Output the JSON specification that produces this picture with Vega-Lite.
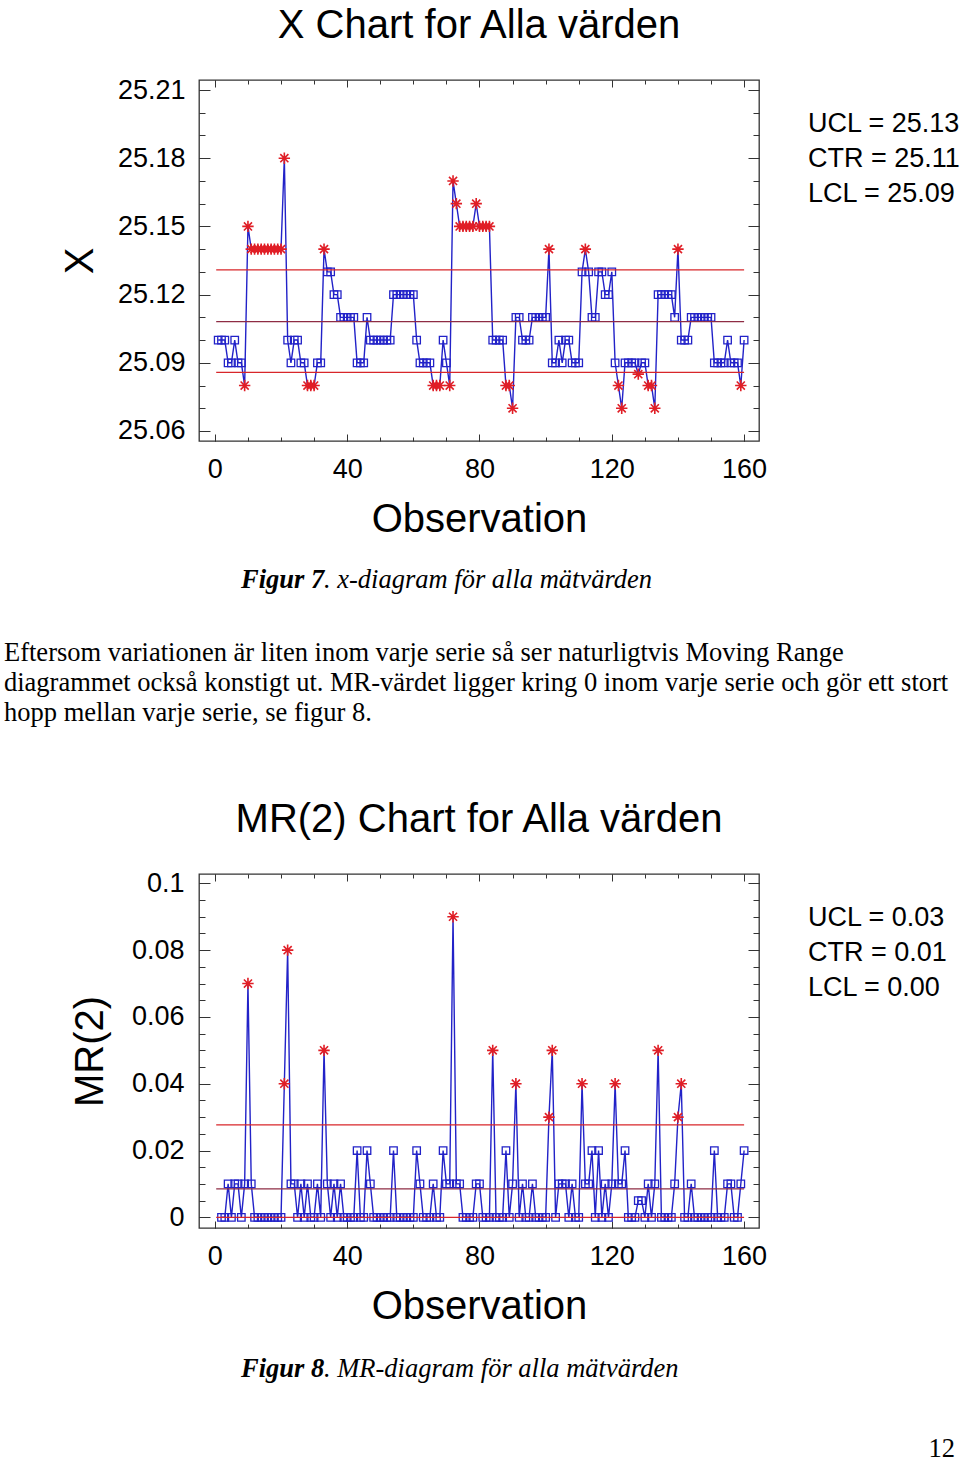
{
  "$schema": "https://vega.github.io/schema/vega-lite/v6.json",
  "autosize": {"type": "pad"},
  "padding": {"left": 4, "top": 5, "right": 3, "bottom": 2},
  "background": "white",
  "spacing": 10,
  "bounds": "flush",
  "config": {
    "font": "Liberation Sans",
    "view": {"stroke": "#333333", "strokeWidth": 1.3},
    "axis": {
      "domain": false, "grid": false,
      "labelFont": "Liberation Sans", "labelFontSize": 27, "labelColor": "#000000",
      "titleFont": "Liberation Sans", "titleFontSize": 40, "titleFontWeight": "normal", "titleColor": "#000000",
      "tickColor": "#333333", "tickWidth": 1
    }
  },
  "datasets": {
    "spc": [
      {"obs":1,"X":25.10,"MR":null},{"obs":2,"X":25.10,"MR":0},{"obs":3,"X":25.10,"MR":0},{"obs":4,"X":25.09,"MR":0.01},{"obs":5,"X":25.09,"MR":0},
      {"obs":6,"X":25.10,"MR":0.01},{"obs":7,"X":25.09,"MR":0.01},{"obs":8,"X":25.09,"MR":0},{"obs":9,"X":25.08,"MR":0.01},{"obs":10,"X":25.15,"MR":0.07},
      {"obs":11,"X":25.14,"MR":0.01},{"obs":12,"X":25.14,"MR":0},{"obs":13,"X":25.14,"MR":0},{"obs":14,"X":25.14,"MR":0},{"obs":15,"X":25.14,"MR":0},
      {"obs":16,"X":25.14,"MR":0},{"obs":17,"X":25.14,"MR":0},{"obs":18,"X":25.14,"MR":0},{"obs":19,"X":25.14,"MR":0},{"obs":20,"X":25.14,"MR":0},
      {"obs":21,"X":25.18,"MR":0.04},{"obs":22,"X":25.10,"MR":0.08},{"obs":23,"X":25.09,"MR":0.01},{"obs":24,"X":25.10,"MR":0.01},{"obs":25,"X":25.10,"MR":0},
      {"obs":26,"X":25.09,"MR":0.01},{"obs":27,"X":25.09,"MR":0},{"obs":28,"X":25.08,"MR":0.01},{"obs":29,"X":25.08,"MR":0},{"obs":30,"X":25.08,"MR":0},
      {"obs":31,"X":25.09,"MR":0.01},{"obs":32,"X":25.09,"MR":0},{"obs":33,"X":25.14,"MR":0.05},{"obs":34,"X":25.13,"MR":0.01},{"obs":35,"X":25.13,"MR":0},
      {"obs":36,"X":25.12,"MR":0.01},{"obs":37,"X":25.12,"MR":0},{"obs":38,"X":25.11,"MR":0.01},{"obs":39,"X":25.11,"MR":0},{"obs":40,"X":25.11,"MR":0},
      {"obs":41,"X":25.11,"MR":0},{"obs":42,"X":25.11,"MR":0},{"obs":43,"X":25.09,"MR":0.02},{"obs":44,"X":25.09,"MR":0},{"obs":45,"X":25.09,"MR":0},
      {"obs":46,"X":25.11,"MR":0.02},{"obs":47,"X":25.10,"MR":0.01},{"obs":48,"X":25.10,"MR":0},{"obs":49,"X":25.10,"MR":0},{"obs":50,"X":25.10,"MR":0},
      {"obs":51,"X":25.10,"MR":0},{"obs":52,"X":25.10,"MR":0},{"obs":53,"X":25.10,"MR":0},{"obs":54,"X":25.12,"MR":0.02},{"obs":55,"X":25.12,"MR":0},
      {"obs":56,"X":25.12,"MR":0},{"obs":57,"X":25.12,"MR":0},{"obs":58,"X":25.12,"MR":0},{"obs":59,"X":25.12,"MR":0},{"obs":60,"X":25.12,"MR":0},
      {"obs":61,"X":25.10,"MR":0.02},{"obs":62,"X":25.09,"MR":0.01},{"obs":63,"X":25.09,"MR":0},{"obs":64,"X":25.09,"MR":0},{"obs":65,"X":25.09,"MR":0},
      {"obs":66,"X":25.08,"MR":0.01},{"obs":67,"X":25.08,"MR":0},{"obs":68,"X":25.08,"MR":0},{"obs":69,"X":25.10,"MR":0.02},{"obs":70,"X":25.09,"MR":0.01},
      {"obs":71,"X":25.08,"MR":0.01},{"obs":72,"X":25.17,"MR":0.09},{"obs":73,"X":25.16,"MR":0.01},{"obs":74,"X":25.15,"MR":0.01},{"obs":75,"X":25.15,"MR":0},
      {"obs":76,"X":25.15,"MR":0},{"obs":77,"X":25.15,"MR":0},{"obs":78,"X":25.15,"MR":0},{"obs":79,"X":25.16,"MR":0.01},{"obs":80,"X":25.15,"MR":0.01},
      {"obs":81,"X":25.15,"MR":0},{"obs":82,"X":25.15,"MR":0},{"obs":83,"X":25.15,"MR":0},{"obs":84,"X":25.10,"MR":0.05},{"obs":85,"X":25.10,"MR":0},
      {"obs":86,"X":25.10,"MR":0},{"obs":87,"X":25.10,"MR":0},{"obs":88,"X":25.08,"MR":0.02},{"obs":89,"X":25.08,"MR":0},{"obs":90,"X":25.07,"MR":0.01},
      {"obs":91,"X":25.11,"MR":0.04},{"obs":92,"X":25.11,"MR":0},{"obs":93,"X":25.10,"MR":0.01},{"obs":94,"X":25.10,"MR":0},{"obs":95,"X":25.10,"MR":0},
      {"obs":96,"X":25.11,"MR":0.01},{"obs":97,"X":25.11,"MR":0},{"obs":98,"X":25.11,"MR":0},{"obs":99,"X":25.11,"MR":0},{"obs":100,"X":25.11,"MR":0},
      {"obs":101,"X":25.14,"MR":0.03},{"obs":102,"X":25.09,"MR":0.05},{"obs":103,"X":25.09,"MR":0},{"obs":104,"X":25.10,"MR":0.01},{"obs":105,"X":25.09,"MR":0.01},
      {"obs":106,"X":25.10,"MR":0.01},{"obs":107,"X":25.10,"MR":0},{"obs":108,"X":25.09,"MR":0.01},{"obs":109,"X":25.09,"MR":0},{"obs":110,"X":25.09,"MR":0},
      {"obs":111,"X":25.13,"MR":0.04},{"obs":112,"X":25.14,"MR":0.01},{"obs":113,"X":25.13,"MR":0.01},{"obs":114,"X":25.11,"MR":0.02},{"obs":115,"X":25.11,"MR":0},
      {"obs":116,"X":25.13,"MR":0.02},{"obs":117,"X":25.13,"MR":0},{"obs":118,"X":25.12,"MR":0.01},{"obs":119,"X":25.12,"MR":0},{"obs":120,"X":25.13,"MR":0.01},
      {"obs":121,"X":25.09,"MR":0.04},{"obs":122,"X":25.08,"MR":0.01},{"obs":123,"X":25.07,"MR":0.01},{"obs":124,"X":25.09,"MR":0.02},{"obs":125,"X":25.09,"MR":0},
      {"obs":126,"X":25.09,"MR":0},{"obs":127,"X":25.09,"MR":0},{"obs":128,"X":25.085,"MR":0.005},{"obs":129,"X":25.09,"MR":0.005},{"obs":130,"X":25.09,"MR":0},
      {"obs":131,"X":25.08,"MR":0.01},{"obs":132,"X":25.08,"MR":0},{"obs":133,"X":25.07,"MR":0.01},{"obs":134,"X":25.12,"MR":0.05},{"obs":135,"X":25.12,"MR":0},
      {"obs":136,"X":25.12,"MR":0},{"obs":137,"X":25.12,"MR":0},{"obs":138,"X":25.12,"MR":0},{"obs":139,"X":25.11,"MR":0.01},{"obs":140,"X":25.14,"MR":0.03},
      {"obs":141,"X":25.10,"MR":0.04},{"obs":142,"X":25.10,"MR":0},{"obs":143,"X":25.10,"MR":0},{"obs":144,"X":25.11,"MR":0.01},{"obs":145,"X":25.11,"MR":0},
      {"obs":146,"X":25.11,"MR":0},{"obs":147,"X":25.11,"MR":0},{"obs":148,"X":25.11,"MR":0},{"obs":149,"X":25.11,"MR":0},{"obs":150,"X":25.11,"MR":0},
      {"obs":151,"X":25.09,"MR":0.02},{"obs":152,"X":25.09,"MR":0},{"obs":153,"X":25.09,"MR":0},{"obs":154,"X":25.09,"MR":0},{"obs":155,"X":25.10,"MR":0.01},
      {"obs":156,"X":25.09,"MR":0.01},{"obs":157,"X":25.09,"MR":0},{"obs":158,"X":25.09,"MR":0},{"obs":159,"X":25.08,"MR":0.01},{"obs":160,"X":25.10,"MR":0.02}
    ],
    "xlim": [{"lim":"UCL","v":25.1309},{"lim":"CTR","v":25.1081},{"lim":"LCL","v":25.0858}],
    "mrlim": [{"lim":"UCL","v":0.0277},{"lim":"CTR","v":0.0085},{"lim":"LCL","v":0}]
  },
  "vconcat": [
    {
      "width": 560, "height": 361,
      "data": {"name": "spc"},
      "layer": [
        {
          "mark": {"type": "line", "color": "#2222c8", "strokeWidth": 1.4},
          "encoding": {
            "x": {"field": "obs", "type": "quantitative", "scale": {"domain": [-4.8, 164.5], "nice": false, "zero": false},
                  "axis": {"orient": "bottom", "values": [0,40,80,120,160], "tickSize": -7, "labelPadding": 22, "title": "Observation", "titlePadding": 17}},
            "y": {"field": "X", "type": "quantitative", "scale": {"domain": [25.0556, 25.2144], "nice": false, "zero": false},
                  "axis": {"orient": "left", "values": [25.06,25.09,25.12,25.15,25.18,25.21], "format": ".2f", "tickSize": -11, "labelPadding": 25, "title": "X", "titlePadding": 17}}
          }
        },
        {
          "transform": [{"filter": "datum.X <= 25.1309 && datum.X >= 25.0858"}],
          "mark": {"type": "point", "shape": "square", "filled": false, "size": 56, "color": "#2222c8", "strokeWidth": 1.3, "opacity": 1},
          "encoding": {
            "x": {"field": "obs", "type": "quantitative", "scale": {"domain": [-4.8, 164.5], "nice": false, "zero": false},
                  "axis": {"orient": "bottom", "values": [0,10,20,30,40,50,60,70,80,90,100,110,120,130,140,150,160], "tickSize": -4, "labels": false, "title": null}},
            "y": {"field": "X", "type": "quantitative", "scale": {"domain": [25.0556, 25.2144], "nice": false, "zero": false},
                  "axis": {"orient": "left", "values": [25.06,25.07,25.08,25.09,25.10,25.11,25.12,25.13,25.14,25.15,25.16,25.17,25.18,25.19,25.20,25.21], "tickSize": -6, "labels": false, "title": null}}
          }
        },
        {
          "transform": [{"filter": "datum.X > 25.1309 || datum.X < 25.0858"}],
          "mark": {"type": "point", "shape": "M-1,0L1,0M0,-1L0,1M-0.71,-0.71L0.71,0.71M-0.71,0.71L0.71,-0.71", "filled": false, "size": 130, "color": "#e01e26", "strokeWidth": 1.6, "opacity": 1},
          "encoding": {
            "x": {"field": "obs", "type": "quantitative", "scale": {"domain": [-4.8, 164.5], "nice": false, "zero": false},
                  "axis": {"orient": "top", "values": [0,40,80,120,160], "tickSize": -7, "labels": false, "title": null}},
            "y": {"field": "X", "type": "quantitative", "scale": {"domain": [25.0556, 25.2144], "nice": false, "zero": false},
                  "axis": {"orient": "right", "values": [25.06,25.09,25.12,25.15,25.18,25.21], "tickSize": -11, "labels": false, "title": null}}
          }
        },
        {
          "data": {"name": "xlim"},
          "mark": {"type": "rule", "strokeWidth": 1.2},
          "encoding": {
            "x": {"datum": 0.4, "type": "quantitative", "scale": {"domain": [-4.8, 164.5], "nice": false, "zero": false},
                  "axis": {"orient": "top", "values": [0,10,20,30,40,50,60,70,80,90,100,110,120,130,140,150,160], "tickSize": -4, "labels": false, "title": null}},
            "x2": {"datum": 160},
            "y": {"field": "v", "type": "quantitative", "scale": {"domain": [25.0556, 25.2144], "nice": false, "zero": false},
                  "axis": {"orient": "right", "values": [25.06,25.07,25.08,25.09,25.10,25.11,25.12,25.13,25.14,25.15,25.16,25.17,25.18,25.19,25.20,25.21], "tickSize": -6, "labels": false, "title": null}},
            "color": {"field": "lim", "type": "nominal", "scale": {"domain": ["UCL","CTR","LCL"], "range": ["#d8262a","#8e2c44","#d8262a"]}, "legend": null}
          }
        },
        {
          "data": {"values": [{}]},
          "mark": {"type": "text", "text": "X Chart for Alla värden", "x": 280, "y": -42, "align": "center", "baseline": "alphabetic", "font": "Liberation Sans", "fontSize": 40, "color": "#000000"},
          "encoding": {}
        },
        {
          "data": {"values": [{}]},
          "mark": {"type": "text", "text": ["UCL = 25.13", "CTR = 25.11", "LCL = 25.09"], "x": 609, "y": 52, "align": "left", "baseline": "alphabetic", "font": "Liberation Sans", "fontSize": 27, "lineHeight": 35, "color": "#000000"},
          "encoding": {}
        }
      ],
      "resolve": {"axis": {"x": "independent", "y": "independent"}}
    },
    {
      "width": 560, "height": 413,
      "view": {"stroke": null},
      "data": {"values": [{}]},
      "layer": [
        {"mark": {"type": "text", "text": "Figur 7", "x": 42, "y": 137.4, "align": "left", "baseline": "alphabetic", "font": "Liberation Serif", "fontSize": 26.5, "fontStyle": "italic", "fontWeight": "bold", "color": "#000000"}, "encoding": {}},
        {"mark": {"type": "text", "text": ". x-diagram för alla mätvärden", "x": 125, "y": 137.4, "align": "left", "baseline": "alphabetic", "font": "Liberation Serif", "fontSize": 26.5, "fontStyle": "italic", "color": "#000000"}, "encoding": {}},
        {"mark": {"type": "text", "text": ["Eftersom variationen är liten inom varje serie så ser naturligtvis Moving Range", "diagrammet också konstigt ut. MR-värdet ligger kring 0 inom varje serie och gör ett stort", "hopp mellan varje serie, se figur 8."], "x": -195, "y": 209.7, "align": "left", "baseline": "alphabetic", "font": "Liberation Serif", "fontSize": 26.5, "lineHeight": 30, "color": "#000000"}, "encoding": {}}
      ]
    },
    {
      "width": 560, "height": 354,
      "data": {"name": "spc"},
      "transform": [{"filter": "datum.MR != null"}],
      "layer": [
        {
          "mark": {"type": "line", "color": "#2222c8", "strokeWidth": 1.4},
          "encoding": {
            "x": {"field": "obs", "type": "quantitative", "scale": {"domain": [-4.8, 164.5], "nice": false, "zero": false},
                  "axis": {"orient": "bottom", "values": [0,40,80,120,160], "tickSize": -7, "labelPadding": 22, "title": "Observation", "titlePadding": 17}},
            "y": {"field": "MR", "type": "quantitative", "scale": {"domain": [-0.0032, 0.1028], "nice": false, "zero": false},
                  "axis": {"orient": "left", "values": [0,0.02,0.04,0.06,0.08,0.1], "labelExpr": "format(datum.value, '~g')", "tickSize": -11, "labelPadding": 26, "title": "MR(2)", "titlePadding": 21}}
          }
        },
        {
          "transform": [{"filter": "datum.MR <= 0.0277"}],
          "mark": {"type": "point", "shape": "square", "filled": false, "size": 56, "color": "#2222c8", "strokeWidth": 1.3, "opacity": 1},
          "encoding": {
            "x": {"field": "obs", "type": "quantitative", "scale": {"domain": [-4.8, 164.5], "nice": false, "zero": false},
                  "axis": {"orient": "bottom", "values": [0,10,20,30,40,50,60,70,80,90,100,110,120,130,140,150,160], "tickSize": -4, "labels": false, "title": null}},
            "y": {"field": "MR", "type": "quantitative", "scale": {"domain": [-0.0032, 0.1028], "nice": false, "zero": false},
                  "axis": {"orient": "left", "values": [0,0.005,0.01,0.015,0.02,0.025,0.03,0.035,0.04,0.045,0.05,0.055,0.06,0.065,0.07,0.075,0.08,0.085,0.09,0.095,0.1], "tickSize": -6, "labels": false, "title": null}}
          }
        },
        {
          "transform": [{"filter": "datum.MR > 0.0277"}],
          "mark": {"type": "point", "shape": "M-1,0L1,0M0,-1L0,1M-0.71,-0.71L0.71,0.71M-0.71,0.71L0.71,-0.71", "filled": false, "size": 130, "color": "#e01e26", "strokeWidth": 1.6, "opacity": 1},
          "encoding": {
            "x": {"field": "obs", "type": "quantitative", "scale": {"domain": [-4.8, 164.5], "nice": false, "zero": false},
                  "axis": {"orient": "top", "values": [0,40,80,120,160], "tickSize": -7, "labels": false, "title": null}},
            "y": {"field": "MR", "type": "quantitative", "scale": {"domain": [-0.0032, 0.1028], "nice": false, "zero": false},
                  "axis": {"orient": "right", "values": [0,0.02,0.04,0.06,0.08,0.1], "tickSize": -11, "labels": false, "title": null}}
          }
        },
        {
          "data": {"name": "mrlim"},
          "mark": {"type": "rule", "strokeWidth": 1.2},
          "encoding": {
            "x": {"datum": 0.4, "type": "quantitative", "scale": {"domain": [-4.8, 164.5], "nice": false, "zero": false},
                  "axis": {"orient": "top", "values": [0,10,20,30,40,50,60,70,80,90,100,110,120,130,140,150,160], "tickSize": -4, "labels": false, "title": null}},
            "x2": {"datum": 160},
            "y": {"field": "v", "type": "quantitative", "scale": {"domain": [-0.0032, 0.1028], "nice": false, "zero": false},
                  "axis": {"orient": "right", "values": [0,0.005,0.01,0.015,0.02,0.025,0.03,0.035,0.04,0.045,0.05,0.055,0.06,0.065,0.07,0.075,0.08,0.085,0.09,0.095,0.1], "tickSize": -6, "labels": false, "title": null}},
            "color": {"field": "lim", "type": "nominal", "scale": {"domain": ["UCL","CTR","LCL"], "range": ["#d8262a","#8e2c44","#d8262a"]}, "legend": null}
          }
        },
        {
          "data": {"values": [{}]},
          "mark": {"type": "text", "text": "MR(2) Chart for Alla värden", "x": 280, "y": -42, "align": "center", "baseline": "alphabetic", "font": "Liberation Sans", "fontSize": 40, "color": "#000000"},
          "encoding": {}
        },
        {
          "data": {"values": [{}]},
          "mark": {"type": "text", "text": ["UCL = 0.03", "CTR = 0.01", "LCL = 0.00"], "x": 609, "y": 52, "align": "left", "baseline": "alphabetic", "font": "Liberation Sans", "fontSize": 27, "lineHeight": 35, "color": "#000000"},
          "encoding": {}
        }
      ],
      "resolve": {"axis": {"x": "independent", "y": "independent"}}
    },
    {
      "width": 560, "height": 230,
      "view": {"stroke": null},
      "data": {"values": [{}]},
      "layer": [
        {"mark": {"type": "text", "text": "Figur 8", "x": 42, "y": 138.7, "align": "left", "baseline": "alphabetic", "font": "Liberation Serif", "fontSize": 26.5, "fontStyle": "italic", "fontWeight": "bold", "color": "#000000"}, "encoding": {}},
        {"mark": {"type": "text", "text": ". MR-diagram för alla mätvärden", "x": 125, "y": 138.7, "align": "left", "baseline": "alphabetic", "font": "Liberation Serif", "fontSize": 26.5, "fontStyle": "italic", "color": "#000000"}, "encoding": {}},
        {"mark": {"type": "text", "text": "12", "x": 756, "y": 219, "align": "right", "baseline": "alphabetic", "font": "Liberation Serif", "fontSize": 26.5, "color": "#000000"}, "encoding": {}}
      ]
    }
  ]
}
